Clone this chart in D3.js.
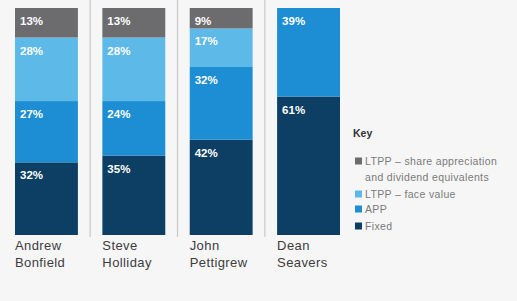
<!DOCTYPE html>
<html>
<head>
<meta charset="utf-8">
<script src="https://cdn.jsdelivr.net/npm/d3@7"></script>
<style>
  body { margin: 0; background: #f6f6f6; }
  svg { display: block; }
</style>
</head>
<body>
<svg id="chart" width="517" height="301"></svg>
<script>
// data
const people = ["Andrew Bonfield", "Steve Holliday", "John Pettigrew", "Dean Seavers"];
const fixed = [32, 35, 42, 61];
const app = [27, 24, 32, 39];
const ltppFace = [28, 28, 17, 0];
const ltppShare = [13, 13, 9, 0];

const keys = ["fixed", "app", "ltppFace", "ltppShare"];
const keyLabels = [["Fixed"], ["APP"], ["LTPP \u2013 face value"], ["LTPP \u2013 share appreciation", "and dividend equivalents"]];
const colors = ["#0c3f63", "#1d8ed3", "#5db9e8", "#6c6c6e"];

const rows = people.map((p, i) => ({
    name: p, fixed: fixed[i], app: app[i], ltppFace: ltppFace[i], ltppShare: ltppShare[i]
}));

const svg = d3.select("#chart");

const x = d3.scaleBand()
    .domain(people)
    .range([15, 340])
    .paddingInner(0.28)
    .paddingOuter(0);

const y = d3.scaleLinear()
    .domain([0, 100])
    .range([235, 8]);

const color = d3.scaleOrdinal().domain(keys).range(colors);

const series = d3.stack().keys(keys)(rows);

// separators between bars
const gap = x.step() - x.bandwidth();
svg.append("g")
    .selectAll("line")
    .data(people.slice(0, -1))
    .enter()
    .append("line")
        .attr("x1", d => x(d) + x.bandwidth() + gap / 2)
        .attr("x2", d => x(d) + x.bandwidth() + gap / 2)
        .attr("y1", 0)
        .attr("y2", 237)
        .attr("stroke", "#c9c9c9")
        .attr("stroke-width", 1.2);

// stacked segments
const layer = svg.append("g")
    .selectAll("g")
    .data(series)
    .enter()
    .append("g")
        .attr("fill", d => color(d.key));

layer.selectAll("rect")
    .data(d => d)
    .enter()
    .append("rect")
        .attr("x", d => x(d.data.name))
        .attr("y", d => y(d[1]))
        .attr("width", x.bandwidth())
        .attr("height", d => y(d[0]) - y(d[1]));

// value labels
layer.selectAll("text")
    .data(d => d.filter(s => s[1] - s[0] > 0))
    .enter()
    .append("text")
        .attr("x", d => x(d.data.name) + 5)
        .attr("y", d => y(d[1]) + 17)
        .text(d => (d[1] - d[0]) + "%")
        .attr("fill", "#ffffff")
        .attr("font-family", "Liberation Sans, Arial, sans-serif")
        .attr("font-weight", "bold")
        .attr("font-size", 11.5);

// names under bars
const names = svg.append("g")
    .selectAll("text")
    .data(people)
    .enter()
    .append("text")
        .attr("x", d => x(d))
        .attr("y", 250)
        .attr("fill", "#3d3d3d")
        .attr("font-family", "Liberation Sans, Arial, sans-serif")
        .attr("font-size", 13)
        .attr("letter-spacing", 0.4);

names.selectAll("tspan")
    .data(d => d.split(" "))
    .enter()
    .append("tspan")
        .attr("x", function() { return d3.select(this.parentNode).attr("x"); })
        .attr("dy", (d, i) => i === 0 ? 0 : 17)
        .text(d => d);

// legend
const legend = svg.append("g")
    .attr("transform", "translate(353, 0)")
    .attr("font-family", "Liberation Sans, Arial, sans-serif");

legend.append("text")
    .attr("x", 0)
    .attr("y", 137)
    .text("Key")
    .attr("font-weight", "bold")
    .attr("font-size", 10.5)
    .attr("fill", "#333");

const legendOrder = [3, 2, 1, 0];
const legendY = [165, 198, 213, 230];

legendOrder.forEach((k, i) => {
    legend.append("rect")
        .attr("x", 2)
        .attr("y", legendY[i] - 7.5)
        .attr("width", 7)
        .attr("height", 7)
        .attr("fill", colors[k]);

    keyLabels[k].forEach((line, j) => {
        legend.append("text")
            .attr("x", 12)
            .attr("y", legendY[i] + j * 16)
            .text(line)
            .attr("font-size", 10.5)
            .attr("letter-spacing", 0.35)
            .attr("fill", "#7a7a7a");
    });
});
</script>
</body>
</html>
